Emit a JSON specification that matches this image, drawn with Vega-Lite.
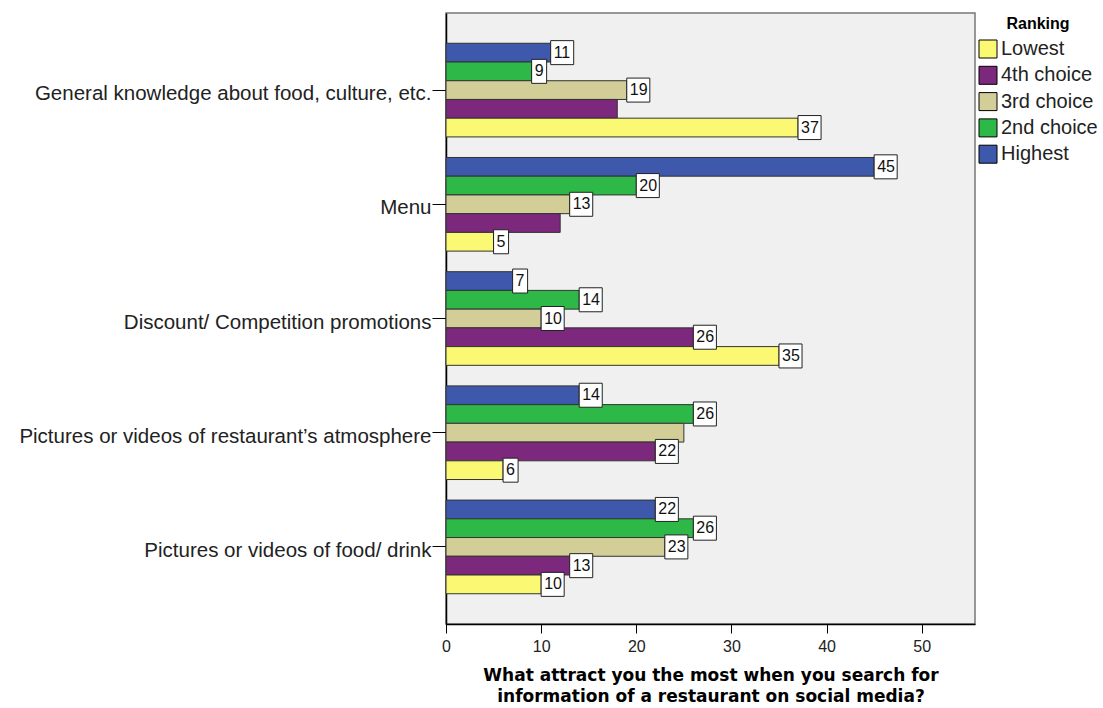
{
  "$schema": "https://vega.github.io/schema/vega-lite/v6.json",
  "width": 529,
  "height": 611,
  "autosize": {"type": "none"},
  "padding": {"left": 446, "top": 13, "right": 128, "bottom": 84},
  "background": "white",
  "config": {
    "view": {"fill": "#F0F0F0", "stroke": "#777777", "strokeWidth": 1.5},
    "font": "Liberation Sans"
  },
  "data": {
    "values": [
      {"cat": "General knowledge about food, culture, etc.", "rank": "Highest", "value": 11},
      {"cat": "General knowledge about food, culture, etc.", "rank": "2nd choice", "value": 9},
      {"cat": "General knowledge about food, culture, etc.", "rank": "3rd choice", "value": 19},
      {"cat": "General knowledge about food, culture, etc.", "rank": "4th choice", "value": 18},
      {"cat": "General knowledge about food, culture, etc.", "rank": "Lowest", "value": 37},
      {"cat": "Menu", "rank": "Highest", "value": 45},
      {"cat": "Menu", "rank": "2nd choice", "value": 20},
      {"cat": "Menu", "rank": "3rd choice", "value": 13},
      {"cat": "Menu", "rank": "4th choice", "value": 12},
      {"cat": "Menu", "rank": "Lowest", "value": 5},
      {"cat": "Discount/ Competition promotions", "rank": "Highest", "value": 7},
      {"cat": "Discount/ Competition promotions", "rank": "2nd choice", "value": 14},
      {"cat": "Discount/ Competition promotions", "rank": "3rd choice", "value": 10},
      {"cat": "Discount/ Competition promotions", "rank": "4th choice", "value": 26},
      {"cat": "Discount/ Competition promotions", "rank": "Lowest", "value": 35},
      {"cat": "Pictures or videos of restaurant’s atmosphere", "rank": "Highest", "value": 14},
      {"cat": "Pictures or videos of restaurant’s atmosphere", "rank": "2nd choice", "value": 26},
      {"cat": "Pictures or videos of restaurant’s atmosphere", "rank": "3rd choice", "value": 25},
      {"cat": "Pictures or videos of restaurant’s atmosphere", "rank": "4th choice", "value": 22},
      {"cat": "Pictures or videos of restaurant’s atmosphere", "rank": "Lowest", "value": 6},
      {"cat": "Pictures or videos of food/ drink", "rank": "Highest", "value": 22},
      {"cat": "Pictures or videos of food/ drink", "rank": "2nd choice", "value": 26},
      {"cat": "Pictures or videos of food/ drink", "rank": "3rd choice", "value": 23},
      {"cat": "Pictures or videos of food/ drink", "rank": "4th choice", "value": 13},
      {"cat": "Pictures or videos of food/ drink", "rank": "Lowest", "value": 10}
    ]
  },
  "encoding": {
    "y": {
      "field": "cat",
      "type": "nominal",
      "sort": null,
      "scale": {"paddingInner": 0.18, "paddingOuter": 0.265},
      "axis": {
        "title": null,
        "labelFont": "Liberation Sans",
        "labelFontSize": 20.5,
        "labelColor": "#222222",
        "labelPadding": 1,
        "labelOffset": 4,
        "tickSize": 14,
        "tickColor": "#000000",
        "domainColor": "#000000",
        "domainWidth": 1.5,
        "labelLimit": 500
      }
    },
    "yOffset": {
      "field": "rank",
      "type": "nominal",
      "scale": {"domain": ["Highest", "2nd choice", "3rd choice", "4th choice", "Lowest"], "paddingInner": 0, "paddingOuter": 0}
    },
    "x": {
      "field": "value",
      "type": "quantitative",
      "scale": {"domain": [0, 55.6], "nice": false, "zero": true},
      "axis": {
        "values": [0, 10, 20, 30, 40, 50],
        "grid": false,
        "title": ["What attract you the most when you search for", "information of a restaurant on social media?"],
        "titleFont": "DejaVu Sans",
        "titleFontSize": 17,
        "titleFontWeight": "bold",
        "titleLineHeight": 21,
        "titlePadding": 13,
        "titleColor": "#000000",
        "labelFont": "Liberation Sans",
        "labelFontSize": 16,
        "labelColor": "#222222",
        "labelPadding": 5,
        "labelFlush": false,
        "tickSize": 9,
        "tickColor": "#000000",
        "domainColor": "#000000",
        "domainWidth": 1.5
      }
    }
  },
  "layer": [
    {
      "mark": {"type": "bar", "stroke": "#333333", "strokeWidth": 1},
      "encoding": {
        "color": {
          "field": "rank",
          "type": "nominal",
          "scale": {
            "domain": ["Lowest", "4th choice", "3rd choice", "2nd choice", "Highest"],
            "range": ["#FBF873", "#7C287D", "#D3CE97", "#2EB848", "#3E58AC"]
          },
          "legend": {
            "title": "Ranking",
            "orient": "none",
            "legendX": 532,
            "legendY": 3,
            "titleFont": "Liberation Sans",
            "titleFontSize": 16,
            "titleFontWeight": "bold",
            "titleColor": "#000000",
            "titleAnchor": "middle",
            "titlePadding": 7,
            "labelFont": "Liberation Sans",
            "labelFontSize": 20,
            "labelColor": "#222222",
            "labelOffset": 3,
            "symbolType": "square",
            "symbolSize": 324,
            "symbolStrokeColor": "#000000",
            "symbolStrokeWidth": 1,
            "rowPadding": 4.3,
            "padding": 0
          }
        }
      }
    },
    {
      "transform": [
        {"filter": "!((datum.cat === 'Menu' && datum.rank === '4th choice') || (datum.cat === 'General knowledge about food, culture, etc.' && datum.rank === '4th choice') || (datum.cat === 'Pictures or videos of restaurant’s atmosphere' && datum.rank === '3rd choice'))"}
      ],
      "mark": {"type": "point", "filled": true, "fill": "#FFFFFF", "stroke": "#222222", "strokeWidth": 1, "opacity": 1, "size": 576},
      "encoding": {
        "shape": {
          "condition": {"test": "datum.value < 10", "value": "M0,-1H1.25V1H0Z"},
          "value": "M0,-1H1.92V1H0Z"
        }
      }
    },
    {
      "transform": [
        {"filter": "!((datum.cat === 'Menu' && datum.rank === '4th choice') || (datum.cat === 'General knowledge about food, culture, etc.' && datum.rank === '4th choice') || (datum.cat === 'Pictures or videos of restaurant’s atmosphere' && datum.rank === '3rd choice'))"}
      ],
      "mark": {"type": "text", "align": "left", "baseline": "middle", "dx": 3, "font": "Liberation Sans", "fontSize": 16, "color": "#111111"},
      "encoding": {
        "text": {"field": "value", "type": "quantitative"}
      }
    }
  ]
}
